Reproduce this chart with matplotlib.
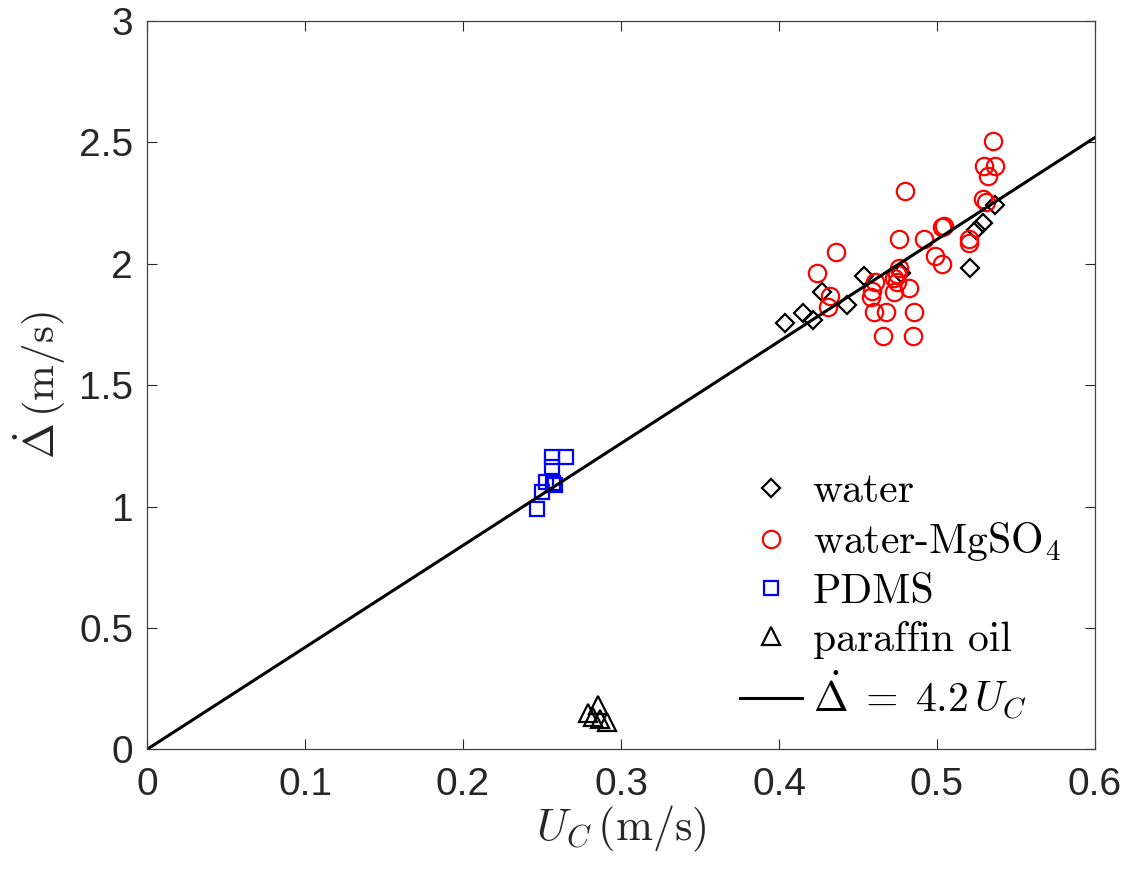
import numpy as np
import matplotlib
matplotlib.use('Agg')
import matplotlib.pyplot as plt
from matplotlib.ticker import FuncFormatter, MultipleLocator

plt.rcParams['mathtext.fontset'] = 'cm'
plt.rcParams['font.family'] = ['Liberation Sans', 'DejaVu Sans']

# water (diamonds)
water_x = [0.404, 0.4154, 0.4217, 0.427, 0.443, 0.4538, 0.477, 0.521, 0.525, 0.529, 0.537]
water_y = [1.755, 1.798, 1.768, 1.885, 1.830, 1.949, 1.960, 1.981, 2.140, 2.166, 2.242]

# water-MgSO4 (circles)
mgso4_x = [0.5357, 0.530, 0.537, 0.5325, 0.480, 0.529, 0.531, 0.5044, 0.503, 0.476,
           0.492, 0.520, 0.5204, 0.436, 0.499, 0.503, 0.424, 0.476, 0.4745, 0.473,
           0.461, 0.475, 0.482, 0.4586, 0.473, 0.432, 0.458, 0.431, 0.460, 0.468,
           0.4854, 0.4656, 0.4846]
mgso4_y = [2.504, 2.402, 2.402, 2.361, 2.300, 2.265, 2.255, 2.155, 2.150, 2.100,
           2.100, 2.100, 2.086, 2.049, 2.033, 1.999, 1.960, 1.981, 1.958, 1.940,
           1.923, 1.923, 1.899, 1.889, 1.885, 1.868, 1.864, 1.823, 1.800, 1.800,
           1.800, 1.702, 1.702]

# PDMS (squares)
pdms_x = [0.2565, 0.265, 0.2565, 0.2525, 0.257, 0.258, 0.2498, 0.247]
pdms_y = [1.205, 1.205, 1.161, 1.102, 1.095, 1.089, 1.061, 0.990]

# paraffin oil (triangles)
oil_x = [0.2857, 0.2794, 0.2825, 0.2867, 0.291]
oil_y = [0.182, 0.148, 0.134, 0.124, 0.114]

slope = 4.2
fit_x = np.array([0.0, 0.6])

fig = plt.figure(figsize=(11.4, 8.76), dpi=100)
ax = fig.add_axes([0.129, 0.1446, 0.8315, 0.8315])

ax.plot(water_x, water_y, 'D', mfc='none', mec='k', ms=9.5, mew=1.6, ls='none', label='water')
ax.plot(mgso4_x, mgso4_y, 'o', mfc='none', mec='r', ms=12.5, mew=1.6, ls='none', label='water-MgSO$_4$')
ax.plot(pdms_x, pdms_y, 's', mfc='none', mec='b', ms=9.5, mew=1.6, ls='none', label='PDMS')
ax.plot(oil_x, oil_y, '^', mfc='none', mec='k', ms=13, mew=1.6, ls='none', label='paraffin oil')
ax.plot(fit_x, slope * fit_x, '-', color='k', lw=2.2, label=r'$\dot{\Delta}\;=\;4.2\,U_C$')

ax.set_xlim(0, 0.6)
ax.set_ylim(0, 3)
ax.xaxis.set_major_locator(MultipleLocator(0.1))
ax.yaxis.set_major_locator(MultipleLocator(0.5))
fmt = FuncFormatter(lambda v, p: '%g' % round(v, 3))
ax.xaxis.set_major_formatter(fmt)
ax.yaxis.set_major_formatter(fmt)

ax.tick_params(direction='in', length=7, width=0.8, color='#262626', labelcolor='#262626',
               labelsize=28, top=True, right=True)
ax.tick_params(axis='x', pad=13)
ax.tick_params(axis='y', pad=10)
for sp in ax.spines.values():
    sp.set_color('#404040')
    sp.set_linewidth(0.9)

ax.set_xlabel(r'$U_C\,(\mathrm{m/s})$', fontsize=32, color='#262626', labelpad=0)
ax.set_ylabel(r'$\dot{\Delta}\,(\mathrm{m/s})$', fontsize=31, color='#262626', labelpad=8)

leg = ax.legend(loc='lower right', bbox_to_anchor=(1.003, -0.014), frameon=False,
                prop={'family': 'cmr10', 'size': 30}, handlelength=1.5,
                handletextpad=0.25, labelspacing=0.24, markerscale=1.0)

plt.savefig('out.png', dpi=100)
